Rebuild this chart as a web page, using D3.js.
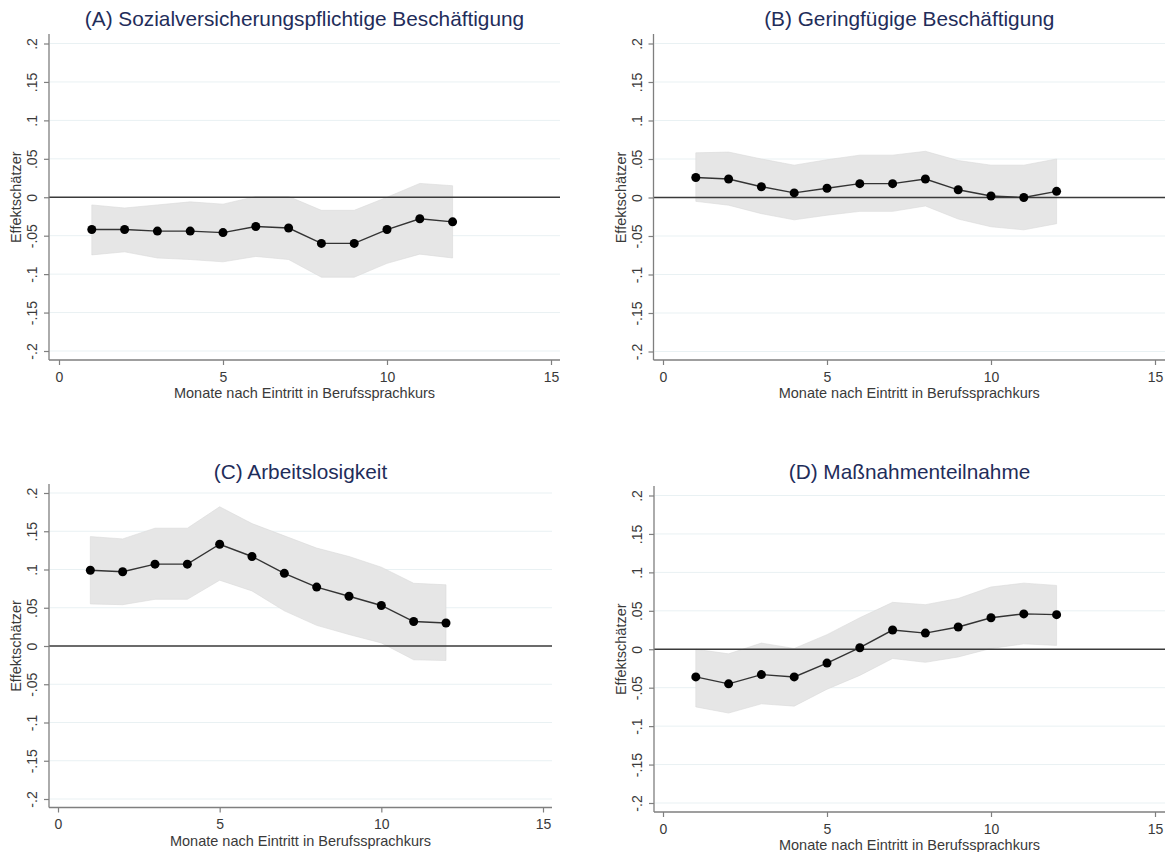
<!DOCTYPE html>
<html>
<head>
<meta charset="utf-8">
<script src="https://cdn.jsdelivr.net/npm/d3@7"></script>
<style>
  html, body { margin: 0; padding: 0; background: #ffffff; }
  svg { display: block; }
  text { font-family: "Liberation Sans", Arial, sans-serif; }
</style>
</head>
<body>
<svg id="chart" width="1168" height="852"></svg>
<script>
// ---------------- data ----------------
const months = [1, 2, 3, 4, 5, 6, 7, 8, 9, 10, 11, 12];

const xTicks = [0, 5, 10, 15];
const yTicks = [0.2, 0.15, 0.1, 0.05, 0, -0.05, -0.1, -0.15, -0.2];
const yTickLabels = [".2", ".15", ".1", ".05", "0", "-.05", "-.1", "-.15", "-.2"];

const xAxisTitle = "Monate nach Eintritt in Berufssprachkurs";
const yAxisTitle = "Effektschätzer";

const titles = [
  "(A) Sozialversicherungspflichtige Beschäftigung",
  "(B) Geringfügige Beschäftigung",
  "(C) Arbeitslosigkeit",
  "(D) Maßnahmenteilnahme"
];

// (A) Sozialversicherungspflichtige Beschäftigung
const aEst = [-0.042, -0.042, -0.044, -0.044, -0.046, -0.038, -0.040, -0.060, -0.060, -0.042, -0.028, -0.032];
const aLo  = [-0.075, -0.071, -0.079, -0.081, -0.084, -0.077, -0.081, -0.104, -0.104, -0.086, -0.074, -0.079];
const aHi  = [-0.010, -0.014, -0.010, -0.006, -0.009, 0.001, 0.001, -0.017, -0.017, 0.000, 0.018, 0.015];

// (B) Geringfügige Beschäftigung
const bEst = [0.026, 0.024, 0.014, 0.006, 0.012, 0.018, 0.018, 0.024, 0.010, 0.002, 0.000, 0.008];
const bLo  = [-0.005, -0.010, -0.021, -0.029, -0.023, -0.018, -0.018, -0.011, -0.028, -0.038, -0.042, -0.034];
const bHi  = [0.058, 0.059, 0.050, 0.042, 0.049, 0.055, 0.055, 0.060, 0.048, 0.042, 0.042, 0.050];

// (C) Arbeitslosigkeit
const cEst = [0.099, 0.097, 0.107, 0.107, 0.133, 0.117, 0.095, 0.077, 0.065, 0.053, 0.032, 0.030];
const cLo  = [0.055, 0.054, 0.061, 0.061, 0.086, 0.072, 0.046, 0.027, 0.015, 0.004, -0.018, -0.019];
const cHi  = [0.143, 0.140, 0.154, 0.154, 0.182, 0.160, 0.144, 0.128, 0.117, 0.103, 0.082, 0.080];

// (D) Maßnahmenteilnahme
const dEst = [-0.036, -0.045, -0.033, -0.036, -0.018, 0.002, 0.025, 0.021, 0.029, 0.041, 0.046, 0.045];
const dLo  = [-0.075, -0.083, -0.071, -0.074, -0.052, -0.034, -0.012, -0.017, -0.010, 0.001, 0.007, 0.005];
const dHi  = [0.000, -0.006, 0.008, 0.001, 0.019, 0.041, 0.061, 0.058, 0.066, 0.081, 0.086, 0.083];

// ---------------- layout ----------------
const panels = [
  { title: titles[0], est: aEst, lo: aLo, hi: aHi,
    x0: 59,  x15: 551,  yTop: 43.5, yBot: 351,  axL: 49,  axR: 560,  axT: 34,  axB: 360,  titleY: 26 },
  { title: titles[1], est: bEst, lo: bLo, hi: bHi,
    x0: 663, x15: 1155, yTop: 43.5, yBot: 351.5, axL: 653.5, axR: 1165, axT: 34, axB: 360, titleY: 26 },
  { title: titles[2], est: cEst, lo: cLo, hi: cHi,
    x0: 58,  x15: 543,  yTop: 493, yBot: 799,  axL: 49,  axR: 552,  axT: 484, axB: 807.5, titleY: 479 },
  { title: titles[3], est: dEst, lo: dLo, hi: dHi,
    x0: 663, x15: 1155, yTop: 495.5, yBot: 803, axL: 654, axR: 1165, axT: 486, axB: 812, titleY: 479 }
];

const svg = d3.select("#chart");
const axisColor = "#7f7f7f";
const textColor = "#3a3a3a";
const titleColor = "#1f2d5a";

panels.forEach(p => {
  const x = d3.scaleLinear().domain([0, 15]).range([p.x0, p.x15]);
  const y = d3.scaleLinear().domain([-0.2, 0.2]).range([p.yBot, p.yTop]);
  const g = svg.append("g");

  // gridlines
  g.selectAll("line.grid").data(yTicks.filter(v => v !== 0)).enter()
    .append("line").attr("class", "grid")
    .attr("x1", p.axL + 1).attr("x2", p.axR)
    .attr("y1", d => y(d)).attr("y2", d => y(d))
    .attr("stroke", "#e9f1f3").attr("stroke-width", 1);

  // confidence band
  const area = d3.area()
    .x((d, i) => x(months[i]))
    .y0((d, i) => y(p.lo[i]))
    .y1((d, i) => y(p.hi[i]));
  g.append("path").datum(p.est)
    .attr("d", area)
    .attr("fill", "#e6e6e6")
    .attr("stroke", "#dadada")
    .attr("stroke-width", 0.6);

  // zero line
  g.append("line")
    .attr("x1", p.axL).attr("x2", p.axR)
    .attr("y1", y(0)).attr("y2", y(0))
    .attr("stroke", "#3a3a3a").attr("stroke-width", 1.6);

  // estimate line
  const line = d3.line()
    .x((d, i) => x(months[i]))
    .y(d => y(d));
  g.append("path").datum(p.est)
    .attr("d", line)
    .attr("fill", "none")
    .attr("stroke", "#333333")
    .attr("stroke-width", 1.4);

  // points
  g.selectAll("circle").data(p.est).enter()
    .append("circle")
    .attr("cx", (d, i) => x(months[i]))
    .attr("cy", d => y(d))
    .attr("r", 4.5)
    .attr("fill", "#000000");

  // y axis
  const yAxis = d3.axisLeft(y)
    .tickValues(yTicks)
    .tickFormat((d, i) => yTickLabels[i])
    .tickSize(5)
    .tickSizeOuter(0);
  const ya = g.append("g").attr("transform", `translate(${p.axL},0)`).call(yAxis);
  ya.select(".domain").remove();
  ya.append("line").attr("x1", 0).attr("x2", 0).attr("y1", p.axT).attr("y2", p.axB)
    .attr("stroke", axisColor).attr("stroke-width", 1.3);
  ya.selectAll(".tick line").attr("stroke", axisColor).attr("stroke-width", 1.2);
  ya.selectAll(".tick text")
    .attr("x", 0).attr("dy", null).attr("y", -12)
    .attr("transform", "rotate(-90)")
    .attr("text-anchor", "middle")
    .attr("fill", textColor)
    .style("font-size", "14px")
    .style("font-family", "'Liberation Sans', Arial, sans-serif");

  // x axis
  const xAxis = d3.axisBottom(x)
    .tickValues(xTicks)
    .tickFormat(d3.format("d"))
    .tickSize(5)
    .tickSizeOuter(0);
  const xa = g.append("g").attr("transform", `translate(0,${p.axB})`).call(xAxis);
  xa.select(".domain").remove();
  xa.append("line").attr("x1", p.axL).attr("x2", p.axR).attr("y1", 0).attr("y2", 0)
    .attr("stroke", axisColor).attr("stroke-width", 1.3);
  xa.selectAll(".tick line").attr("stroke", axisColor).attr("stroke-width", 1.2);
  xa.selectAll(".tick text")
    .attr("y", 12).attr("dy", "0.71em")
    .attr("fill", textColor)
    .style("font-size", "14px")
    .style("font-family", "'Liberation Sans', Arial, sans-serif");

  const cx = (p.axL + p.axR) / 2;

  // x axis title
  g.append("text")
    .attr("x", cx).attr("y", p.axB + 38)
    .attr("text-anchor", "middle")
    .attr("fill", textColor)
    .style("font-size", "14.5px")
    .text(xAxisTitle);

  // y axis title
  g.append("text")
    .attr("transform", `translate(${p.axL - 28},${y(0)}) rotate(-90)`)
    .attr("text-anchor", "middle")
    .attr("fill", textColor)
    .style("font-size", "14.5px")
    .text(yAxisTitle);

  // panel title
  g.append("text")
    .attr("x", cx).attr("y", p.titleY)
    .attr("text-anchor", "middle")
    .attr("fill", titleColor)
    .style("font-size", "20.8px")
    .text(p.title);
});
</script>
</body>
</html>
